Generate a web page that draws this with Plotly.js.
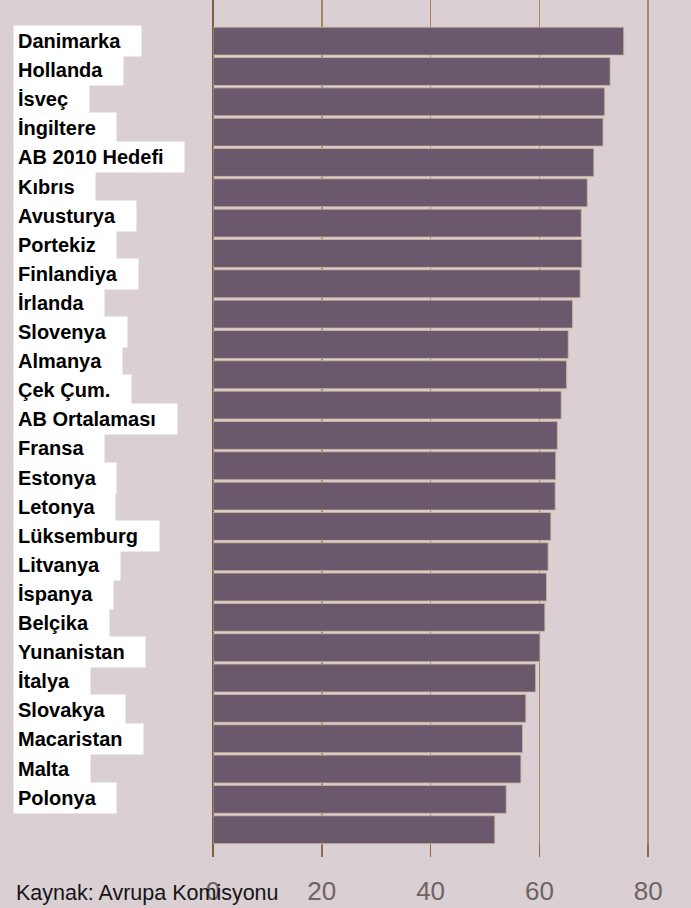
<!DOCTYPE html>
<html>
<head>
<meta charset="utf-8">
<script src="https://cdn.plot.ly/plotly-3.0.1.min.js"></script>
<style>
html,body{margin:0;padding:0;background:#dacfd2;}
#chart{width:691px;height:908px;}
</style>
</head>
<body>
<div id="chart"></div>
<script>
// ---- data ----
const categories = [
  "Danimarka", "Hollanda", "İsveç", "İngiltere", "AB 2010 Hedefi", "Kıbrıs",
  "Avusturya", "Portekiz", "Finlandiya", "İrlanda", "Slovenya", "Almanya",
  "Çek Çum.", "AB Ortalaması", "Fransa", "Estonya", "Letonya", "Lüksemburg",
  "Litvanya", "İspanya", "Belçika", "Yunanistan", "İtalya", "Slovakya",
  "Macaristan", "Malta", "Polonya"
];
const values = [
  75.5, 73.0, 72.0, 71.7, 70.0, 68.8,
  67.7, 67.8, 67.5, 66.1, 65.3, 65.0,
  64.0, 63.3, 63.0, 62.9, 62.1, 61.6,
  61.3, 61.0, 60.1, 59.3, 57.5, 56.9,
  56.6, 53.9, 51.8
];
const tickValues = [0, 20, 40, 60, 80];
const tickLabels = ["0", "20", "40", "60", "80"];
const sourceText = "Kaynak: Avrupa Komisyonu";

// ---- layout geometry ----
const W = 691, H = 908;
const M = {l: 213, r: 0, t: 0, b: 51};
const plotW = W - M.l - M.r, plotH = H - M.t - M.b;
const pxToPaperX = px => (px - M.l) / plotW;
const pxToPaperY = py => 1 - (py - M.t) / plotH;

const labelFont = {family: "Liberation Sans, Arial, sans-serif", size: 20, color: "#000000", weight: 700};
const nb = "\u00a0";
const annotations = categories.map((c, i) => ({
  text: c + nb + nb + nb,
  xref: "paper", yref: "paper",
  x: pxToPaperX(13), y: pxToPaperY(41 + 29.1 * i),
  xanchor: "left", yanchor: "middle",
  showarrow: false,
  bgcolor: "#ffffff",
  borderpad: 4,
  font: labelFont
}));
annotations.push({
  text: sourceText,
  xref: "paper", yref: "paper",
  x: pxToPaperX(14), y: pxToPaperY(893),
  xanchor: "left", yanchor: "middle",
  showarrow: false,
  font: {family: "Liberation Sans, Arial, sans-serif", size: 21.5, color: "#151515"}
});

const trace = {
  type: "bar",
  orientation: "h",
  x: values,
  y: categories,
  marker: {color: "#6a596c", line: {color: "#cdb89c", width: 0.8}},
  hoverinfo: "x+y"
};

const layout = {
  width: W, height: H,
  margin: M,
  paper_bgcolor: "#dacfd2",
  plot_bgcolor: "#dacfd2",
  bargap: 0.08,
  showlegend: false,
  xaxis: {
    range: [0, plotW / 5.44],
    tickmode: "array",
    tickvals: tickValues,
    ticktext: tickLabels,
    showgrid: true,
    gridcolor: "#a9845e",
    gridwidth: 1.5,
    zeroline: true,
    zerolinecolor: "#7e5d45",
    zerolinewidth: 2,
    showline: false,
    ticks: "inside",
    ticklen: 12,
    tickwidth: 1.5,
    tickcolor: "#8a6a52",
    ticklabelstandoff: 16,
    tickfont: {family: "Liberation Sans, Arial, sans-serif", size: 26, color: "#6e6466"},
    fixedrange: true
  },
  yaxis: {
    type: "category",
    range: [26.9, -1.357],
    showticklabels: false,
    showgrid: false,
    zeroline: false,
    showline: false,
    ticks: "",
    fixedrange: true
  },
  annotations: annotations
};

Plotly.newPlot("chart", [trace], layout, {displayModeBar: false, staticPlot: true});
</script>
</body>
</html>
